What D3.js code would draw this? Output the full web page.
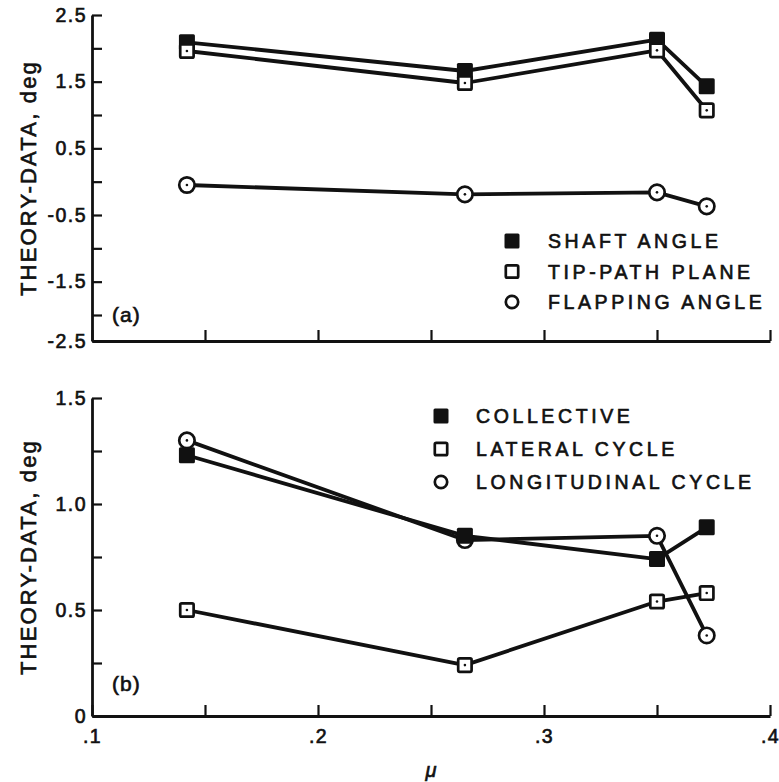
<!DOCTYPE html>
<html>
<head>
<meta charset="utf-8">
<script src="https://cdn.jsdelivr.net/npm/d3@7"></script>
<style>
  html, body { margin: 0; padding: 0; background: #fff; }
  svg { display: block; }
  text { font-family: "Liberation Sans", Arial, Helvetica, sans-serif; fill: #111; stroke: #111; stroke-width: 0.65px; }
</style>
</head>
<body>
<svg id="chart" width="779" height="782"></svg>
<script>
// ---- data ----
const mu = [0.142, 0.265, 0.35, 0.372];
const shaftAngle = [2.09, 1.66, 2.13, 1.43];
const tipPathPlane = [1.96, 1.48, 1.97, 1.07];
const flappingAngle = [-0.05, -0.19, -0.16, -0.37];
const collective = [1.23, 0.85, 0.74, 0.89];
const lateralCycle = [0.50, 0.24, 0.54, 0.58];
const longitudinalCycle = [1.30, 0.83, 0.85, 0.38];

const xTicks = [0.1, 0.15, 0.2, 0.25, 0.3, 0.35, 0.4];
const xTickLabels = [".1", "", ".2", "", ".3", "", ".4"];
const topTicks = [-2.5, -2, -1.5, -1, -0.5, 0, 0.5, 1, 1.5, 2, 2.5];
const topTickLabels = ["-2.5", "", "-1.5", "", "-0.5", "", "0.5", "", "1.5", "", "2.5"];
const botTicks = [0, 0.25, 0.5, 0.75, 1, 1.25, 1.5];
const botTickLabels = ["0", "", "0.5", "", "1.0", "", "1.5"];

const topLegend = ["SHAFT ANGLE", "TIP-PATH PLANE", "FLAPPING ANGLE"];
const botLegend = ["COLLECTIVE", "LATERAL CYCLE", "LONGITUDINAL CYCLE"];
const yTitle = "THEORY-DATA, deg";
const xTitle = "\u03bc";

// ---- layout ----
const svg = d3.select("#chart");
const x = d3.scaleLinear().domain([0.1, 0.4]).range([92, 770]);
// the original's lowest interval (-2.5 to -2) is drawn slightly shorter
const yTop = d3.scaleLinear().domain([-2.5, -2, 2.5]).range([341, 315, 15]);
const yBot = d3.scaleLinear().domain([0, 1.5]).range([716, 398]);

function drawAxes(y, yTicks, yLabels, showXLabels) {
  const r = y.range();
  const gy = svg.append("g").attr("transform", `translate(${x.range()[0]},0)`)
    .call(d3.axisLeft(y).tickValues(yTicks).tickSizeInner(-10).tickSizeOuter(0).tickPadding(5)
      .tickFormat((d, i) => yLabels[i]));
  const gx = svg.append("g").attr("transform", `translate(0,${r[0]})`)
    .call(d3.axisBottom(x).tickValues(xTicks).tickSizeInner(-11).tickSizeOuter(0).tickPadding(13)
      .tickFormat((d, i) => showXLabels ? xTickLabels[i] : ""));
  [gx, gy].forEach(g => {
    g.select(".domain").attr("stroke", "#111").attr("stroke-width", 2.8);
    g.selectAll(".tick line").attr("stroke", "#111").attr("stroke-width", 2.2);
    g.selectAll(".tick text").attr("font-size", 19.5).attr("fill", "#111")
      .attr("letter-spacing", 1.5).attr("font-family", "Liberation Sans, Arial, sans-serif");
  });
  gx.selectAll(".tick text").attr("dy", "0.71em");
  return { gx, gy };
}

drawAxes(yTop, topTicks, topTickLabels, false);
drawAxes(yBot, botTicks, botTickLabels, true);

// axis titles
function yTitleAt(c) {
  svg.append("text").attr("transform", `translate(36,${c}) rotate(-90)`)
    .attr("text-anchor", "middle").attr("font-size", 22).attr("letter-spacing", 2.2)
    .text(yTitle);
}
yTitleAt((yTop(-2.5) + yTop(2.5)) / 2);
yTitleAt((yBot(0) + yBot(1.5)) / 2);
svg.append("text").attr("x", (x(0.1) + x(0.4)) / 2).attr("y", 777)
  .attr("text-anchor", "middle").attr("font-size", 20).attr("font-style", "italic").text(xTitle);

svg.append("text").attr("x", 112).attr("y", 322).attr("font-size", 21).attr("letter-spacing", 1).text("(a)");
svg.append("text").attr("x", 112).attr("y", 691).attr("font-size", 21).attr("letter-spacing", 1).text("(b)");

// ---- series ----
const line = y => d3.line().x(d => x(d[0])).y(d => y(d[1]));

function drawLine(vals, y) {
  svg.append("path").datum(mu.map((m, i) => [m, vals[i]]))
    .attr("d", line(y)).attr("fill", "none").attr("stroke", "#111")
    .attr("stroke-width", 3.8).attr("stroke-linejoin", "round");
}

function marker(g, type, cx, cy, size, dot) {
  if (type === "filled") {
    g.append("rect").attr("x", cx - size / 2).attr("y", cy - size / 2)
      .attr("width", size).attr("height", size).attr("rx", 1.5).attr("fill", "#111");
  } else if (type === "open") {
    g.append("rect").attr("x", cx - size / 2 + 1.3).attr("y", cy - size / 2 + 1.3)
      .attr("width", size - 2.6).attr("height", size - 2.6).attr("rx", 1.5)
      .attr("fill", "#fff").attr("stroke", "#111").attr("stroke-width", 2.7);
  } else {
    g.append("circle").attr("cx", cx).attr("cy", cy).attr("r", size / 2 - 1.3)
      .attr("fill", "#fff").attr("stroke", "#111").attr("stroke-width", 2.7);
  }
  if (dot) g.append("circle").attr("cx", cx).attr("cy", cy).attr("r", 1.3).attr("fill", "#111");
}

function drawMarkers(vals, y, type) {
  const g = svg.append("g");
  mu.forEach((m, i) => marker(g, type, x(m), y(vals[i]), type === "circle" ? 18 : 16, type !== "filled"));
}

// top panel
drawLine(shaftAngle, yTop);
drawLine(tipPathPlane, yTop);
drawLine(flappingAngle, yTop);
drawMarkers(shaftAngle, yTop, "filled");
drawMarkers(tipPathPlane, yTop, "open");
drawMarkers(flappingAngle, yTop, "circle");

// bottom panel
drawLine(collective, yBot);
drawLine(lateralCycle, yBot);
drawLine(longitudinalCycle, yBot);
drawMarkers(lateralCycle, yBot, "open");
drawMarkers(longitudinalCycle, yBot, "circle");
drawMarkers(collective, yBot, "filled");

// ---- legends ----
const types = ["filled", "open", "circle"];
function legend(names, mx, tx, y0, dy) {
  const g = svg.append("g");
  names.forEach((n, i) => {
    const cy = y0 + i * dy;
    marker(g, types[i], mx, cy, 15, false);
    g.append("text").attr("x", tx).attr("y", cy).attr("dy", "0.36em")
      .attr("font-size", 19.5).attr("letter-spacing", 3.6).text(n);
  });
}
legend(topLegend, 512, 548, 241, 30.5);
legend(botLegend, 441, 476, 416, 33);
</script>
</body>
</html>
